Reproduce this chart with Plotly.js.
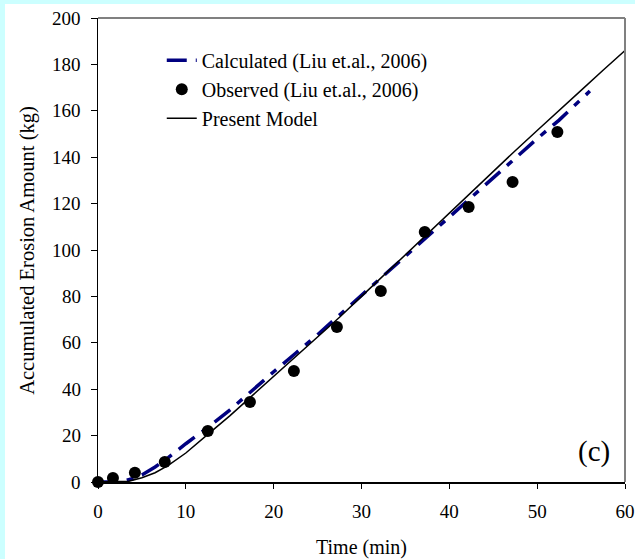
<!DOCTYPE html>
<html>
<head>
<meta charset="utf-8">
<script src="https://cdn.plot.ly/plotly-3.0.1.min.js"></script>
<style>
html, body { margin: 0; padding: 0; background: #ccffff; width: 635px; height: 559px; overflow: hidden; }
#chart { position: absolute; left: 5px; top: 4px; width: 630px; height: 555px; }
</style>
</head>
<body>
<div id="chart"></div>
<script>
// Observed (Liu et.al., 2006)
const obsTime = [0, 1.7, 4.2, 7.6, 12.5, 17.3, 22.3, 27.2, 32.2, 37.2, 42.2, 47.2, 52.3];
const obsErosion = [0, 1.7, 4, 8.6, 22, 34.5, 47.8, 66.8, 82.3, 107.8, 118.5, 129.3, 150.9];

// Calculated (Liu et.al., 2006)
const calcTime = [0, 2.5, 4, 5, 6.5, 8, 10, 12.5, 15, 17.5, 20, 22.5, 25, 27.5, 30, 32.5, 35, 37.5, 40, 42.5, 45, 47.5, 50, 52.5, 56];
const calcErosion = [0, 0, 1.5, 3, 6.5, 10.5, 16.5, 23.5, 31, 39.5, 47.5, 55.5, 63.5, 72, 80.5, 89, 97.5, 106, 114.5, 123, 131, 139.5, 148, 156, 168.5];

// Present Model
const modelTime = [0, 2.5, 3.5, 5, 6.5, 8, 10, 12.5, 15, 17.5, 20, 22.5, 25, 27.5, 30, 32.5, 35, 37.5, 40, 42.5, 45, 47.5, 50, 52.5, 55, 57.5, 60];
const modelErosion = [0, 0, 0.3, 1.8, 4, 7.2, 12.5, 20.5, 28.5, 37, 45.5, 54, 62.5, 71, 80, 89, 98, 107, 116, 125, 134, 142.8, 151.5, 160, 168.8, 177.5, 186];

const xTicks = [0, 10, 20, 30, 40, 50, 60];
const yTicks = [0, 20, 40, 60, 80, 100, 120, 140, 160, 180, 200];

const serif = "Liberation Serif";

const traces = [
  {
    x: calcTime, y: calcErosion, mode: 'lines', name: 'Calculated (Liu et.al., 2006)',
    line: { color: '#000080', width: 3.5, dash: '20px,9px,7px,9px' }, legendgroup: 'a'
  },
  {
    x: obsTime, y: obsErosion, mode: 'markers', name: 'Observed (Liu et.al., 2006)',
    marker: { color: '#000000', size: 12 }, legendgroup: 'b', cliponaxis: false
  },
  {
    x: modelTime, y: modelErosion, mode: 'lines', name: 'Present Model',
    line: { color: '#000000', width: 1.5 }, legendgroup: 'c'
  }
];

// y tick labels placed on the y scale, a little further from the axis than Plotly's default
const yTickLabels = yTicks.map(v => ({
  text: String(v), xref: 'paper', yref: 'y', x: 0, y: v, xanchor: 'right', yanchor: 'middle',
  xshift: -15, showarrow: false, font: { family: serif, size: 19, color: '#000' }
}));

const layout = {
  width: 630, height: 555,
  margin: { l: 93, r: 10, t: 14, b: 77 },
  paper_bgcolor: '#ffffff', plot_bgcolor: '#ffffff',
  font: { family: serif, color: '#000000' },
  showlegend: true,
  legend: {
    x: 0.121, y: 0.951, xanchor: 'left', yanchor: 'top',
    bgcolor: 'rgba(0,0,0,0)', font: { family: serif, size: 20, color: '#000' },
    traceorder: 'grouped', tracegroupgap: 0
  },
  xaxis: {
    range: [0, 60], tickvals: xTicks, ticktext: xTicks.map(String),
    showgrid: false, zeroline: false, showline: true, linecolor: '#000', linewidth: 1.5,
    ticks: 'outside', ticklen: 5, tickcolor: '#000', tickfont: { family: serif, size: 19 },
    ticklabelstandoff: 7,
    title: { text: 'Time (min)', font: { family: serif, size: 20 }, standoff: 18 }
  },
  yaxis: {
    range: [0, 200], tickvals: yTicks, showticklabels: false,
    showgrid: false, zeroline: false, showline: true, linecolor: '#000', linewidth: 1.5,
    ticks: 'outside', ticklen: 6, tickcolor: '#000'
  },
  shapes: [
    { type: 'line', xref: 'paper', yref: 'paper', x0: 0, x1: 1, y0: 1, y1: 1, line: { color: '#808080', width: 2 } },
    { type: 'line', xref: 'paper', yref: 'paper', x0: 1, x1: 1, y0: 0, y1: 1, line: { color: '#808080', width: 2 } }
  ],
  annotations: yTickLabels.concat([
    { text: 'Accumulated Erosion Amount (kg)', xref: 'paper', yref: 'paper', x: -0.135, y: 0.5,
      xanchor: 'center', yanchor: 'middle', textangle: -90, showarrow: false,
      font: { family: serif, size: 20.5, color: '#000' } },
    { text: '(c)', xref: 'paper', yref: 'paper', x: 0.975, y: 0.065, xanchor: 'right', yanchor: 'middle',
      showarrow: false, font: { family: serif, size: 29, color: '#000' } }
  ])
};

Plotly.newPlot('chart', traces, layout, { displayModeBar: false, staticPlot: true });
</script>
</body>
</html>
